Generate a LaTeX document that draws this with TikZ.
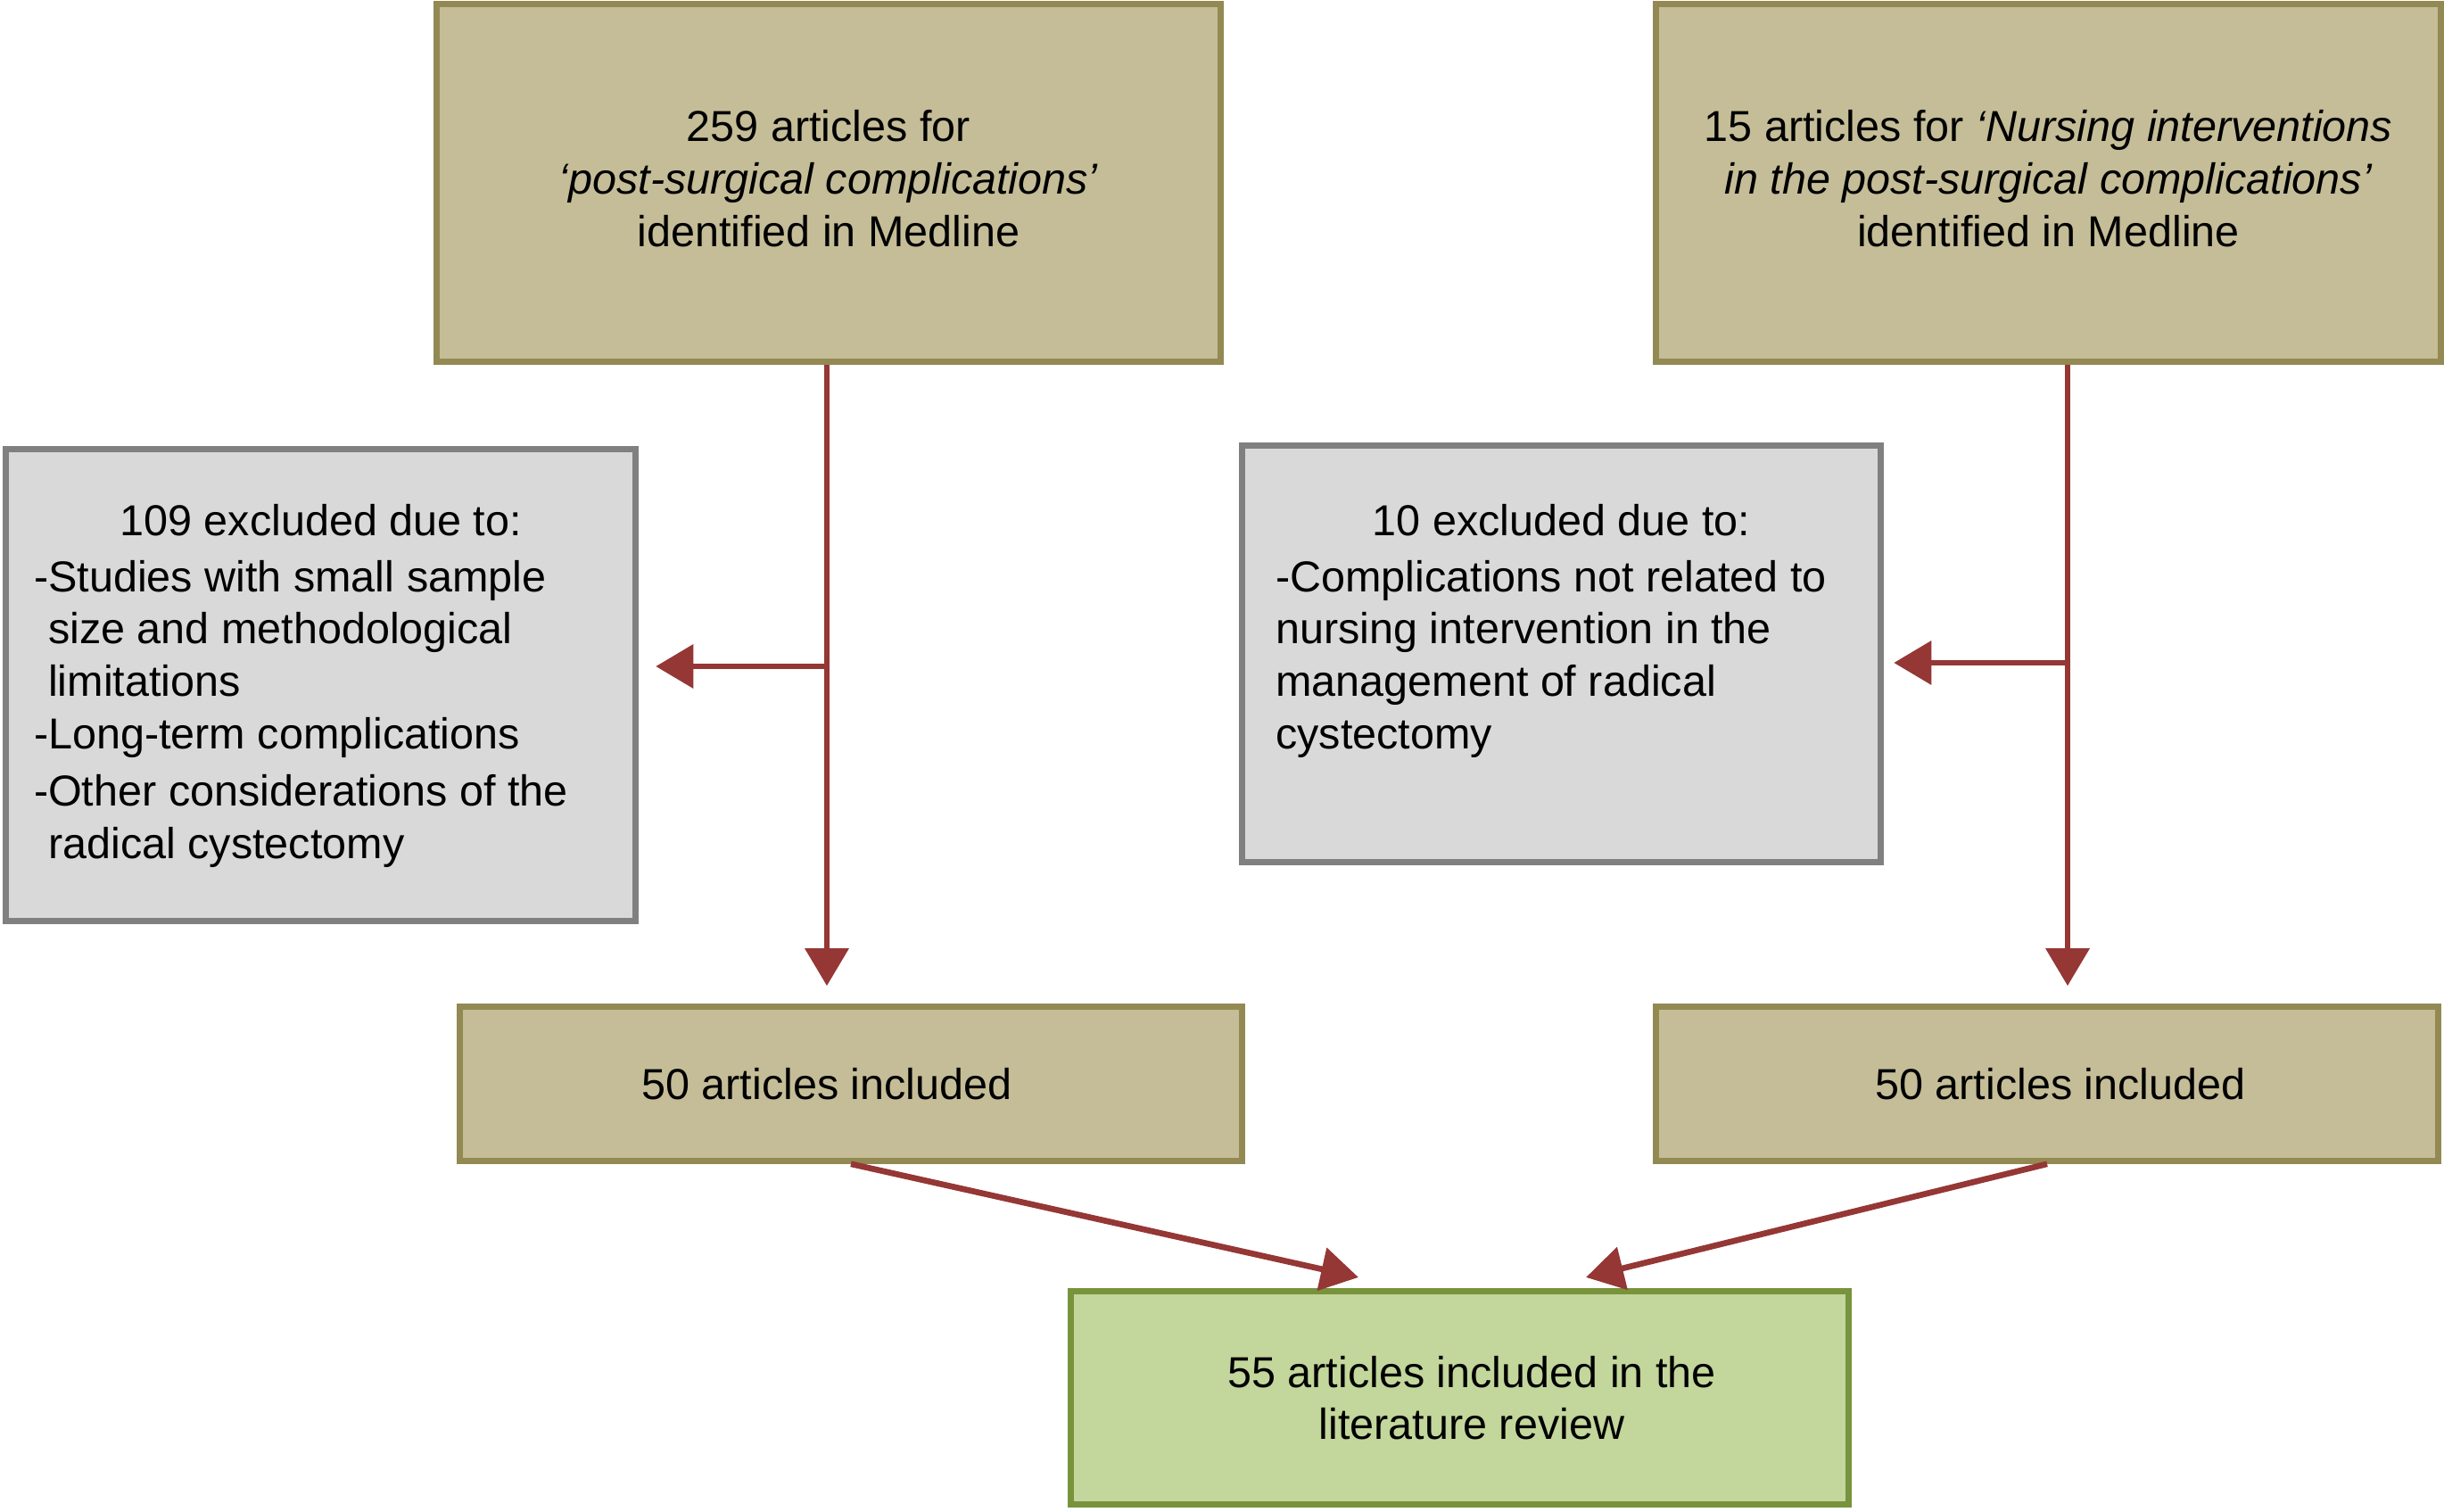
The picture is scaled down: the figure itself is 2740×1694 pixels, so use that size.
\documentclass[tikz,border=0pt]{standalone}
\usepackage{fontspec}
\setmainfont{Liberation Sans}
\usetikzlibrary{arrows.meta}

\definecolor{tanfill}{HTML}{C4BD97}
\definecolor{tanline}{HTML}{938953}
\definecolor{greyfill}{HTML}{D9D9D9}
\definecolor{greyline}{HTML}{808080}
\definecolor{greenfill}{HTML}{C3D69B}
\definecolor{greenline}{HTML}{77933C}
\definecolor{arrowred}{HTML}{953735}

\begin{document}
\begin{tikzpicture}[every text node part/.style={align=center}, x=0.01cm, y=-0.01cm, font=\fontsize{13.8pt}{16.7pt}\selectfont]

\tikzstyle{tanbox}=[draw=tanline, fill=tanfill, line width=2pt, minimum width=8.78cm, inner sep=0pt]
\tikzstyle{greybox}=[draw=greyline, fill=greyfill, line width=2pt, inner sep=0pt]
\tikzstyle{greenbox}=[draw=greenline, fill=greenfill, line width=2pt, minimum width=8.72cm, minimum height=2.39cm, inner sep=0pt]
\tikzstyle{flow}=[draw=arrowred, line width=1.9pt, -{Triangle[length=0.42cm, width=0.48cm]}]

\useasboundingbox (0, 0) rectangle (2740, 1694);

\node [tanbox, minimum height=4.01cm, text depth=0.1cm] (medline1) at ( 929,  205) {259 articles for\\ \textit{‘post-surgical complications’}\\ identified in Medline};
\node [tanbox, minimum height=4.01cm, minimum width=8.80cm, text depth=0.1cm] (medline2) at (2296.5, 205) {15 articles for \textit{‘Nursing interventions}\\ \textit{in the post-surgical complications’}\\ identified in Medline};

\node [greybox, minimum width=7.055cm, minimum height=5.29cm] (excl1) at ( 359.75, 768) {\parbox[c][4.06cm][t]{6.43cm}{\centering 109 excluded due to:\par\vspace{1.2pt}\raggedright
-Studies with small sample\\ \phantom{-}size and methodological\\ \phantom{-}limitations\\ -Long-term complications\\[1.7pt] -Other considerations of the\\ \phantom{-}radical cystectomy}};
\node [greybox, minimum width=7.16cm, minimum height=4.67cm] (excl2) at (1750.5, 733) {\parbox[c][3.36cm][t]{6.4cm}{\centering 10 excluded due to:\par\vspace{1.2pt}\raggedright
-Complications not related to\\ nursing intervention in the\\ management of radical\\ cystectomy}};

\node [tanbox, minimum height=1.725cm, minimum width=8.77cm] (incl1) at ( 954, 1215) {\hspace*{-0.54cm}50 articles included};
\node [tanbox, minimum height=1.725cm, minimum width=8.77cm] (incl2) at (2295, 1215) {\hspace*{0.3cm}50 articles included};

\node [greenbox] (review) at (1636.5, 1567) {\hspace*{0.27cm}55 articles included in the\\ \hspace*{0.27cm}literature review};

\coordinate (fork1) at ( 927, 747);
\coordinate (fork2) at (2318, 743);

\path [flow, shorten >=0.2cm] (fork1 |- medline1.south) -- (fork1 |- incl1.north);
\path [flow, shorten >=0.19cm] (fork1) -- (fork1 -| excl1.east);
\path [flow, shorten >=0.2cm] (fork2 |- medline2.south) -- (fork2 |- incl2.north);
\path [flow, shorten >=0.11cm] (fork2) -- (fork2 -| excl2.east);

\path [flow] (incl1.south) -- ([xshift=-1.135cm, yshift=0.12cm]review.north);
\path [flow] (incl2.south) -- ([xshift=1.415cm, yshift=0.12cm]review.north);

\end{tikzpicture}
\end{document}
